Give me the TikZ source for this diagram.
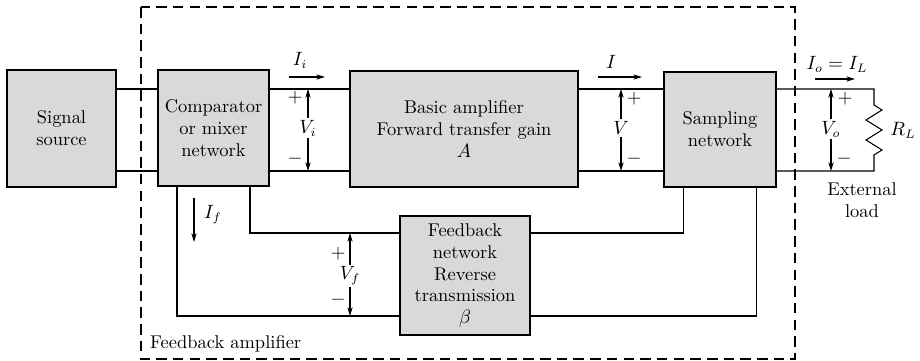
\documentclass[tikz,border=0pt]{standalone}
\usepackage{amsmath}
\usepackage{amssymb}
\usepackage{tikz}
\usetikzlibrary{arrows.meta}

\begin{document}
\begin{tikzpicture}[x=0.02cm, y=-0.02cm, font=\fontsize{10.5}{12.5}\selectfont]

\tikzset{
  block/.style={
    draw, line width=1pt, fill=black!15,
    align=center, inner sep=2pt,
  },
  wire/.style={line width=0.6pt},
  sense/.style={line width=0.6pt, -{Stealth[length=5pt,width=3pt]}},
}

  \useasboundingbox (0,0) rectangle (920,361);

  % Feedback amplifier boundary
  \draw[line width=1pt, dash pattern=on 6pt off 3.5pt] (141,7) rectangle (795,359);
  \node[anchor=west] (fbamp) at (144,344) {Feedback amplifier};

  % Blocks
  \node[block, minimum width=2.18cm, minimum height=2.34cm] (src) at (61.5,128.5) {Signal\\source};
  \node[block, minimum width=2.22cm, minimum height=2.32cm] (cmp) at (213.5,128) {Comparator\\or mixer\\network};
  \node[block, minimum width=4.56cm, minimum height=2.32cm] (amp) at (464,129) {Basic amplifier\\Forward transfer gain\\$A$};
  \node[block, minimum width=2.24cm, minimum height=2.30cm] (smp) at (720,129.5) {Sampling\\network};
  \node[block, minimum width=2.60cm, minimum height=2.38cm] (fb) at (465,275.5) {Feedback\\network\\Reverse\\transmission\\$\beta$};

  % Wire levels
  \coordinate (hi) at (0,89);
  \coordinate (lo) at (0,171);
  \coordinate (fhi) at (0,233);
  \coordinate (flo) at (0,316);
  \coordinate (rt) at (874,89);
  \coordinate (rb) at (874,171);

  % Forward path
  \draw[wire] (src.east |- hi) -- (cmp.west |- hi);
  \draw[wire] (src.east |- lo) -- (cmp.west |- lo);
  \draw[wire] (cmp.east |- hi) -- (amp.west |- hi);
  \draw[wire] (cmp.east |- lo) -- (amp.west |- lo);
  \draw[wire] (amp.east |- hi) -- (smp.west |- hi);
  \draw[wire] (amp.east |- lo) -- (smp.west |- lo);

  % Load
  \draw[wire] (smp.east |- hi) -- (rt) -- (874,105) -- (882,110) -- (866,120)
    -- (882,130) -- (866,140) -- (882,150) -- (874,155) -- (rb) -- (smp.east |- lo);
  \node (rl) at (903,130) {$R_L$};
  \node[align=center] (ext) at (862,200) {External\\load};

  % Feedback path
  \draw[wire] ([xshift=0.73cm]cmp.south) |- (fb.west |- fhi);
  \draw[wire] ([xshift=-0.73cm]cmp.south) |- (fb.west |- flo);
  \draw[wire] ([xshift=-0.73cm]smp.south) |- (fb.east |- fhi);
  \draw[wire] ([xshift=0.73cm]smp.south) |- (fb.east |- flo);

  % Currents
  \node (ii) at (300,60) {$I_i$};
  \draw[sense] (289,77) -- (325,77);
  \node (i) at (611,62) {$I$};
  \draw[sense] (598,77) -- (642,77);
  \node (io) at (837,64) {$I_o = I_L$};
  \draw[sense] (815,79) -- (855,79);
  \node (if) at (213,215) {$I_f$};
  \draw[sense] (194,198) -- (194,242);

  % Voltages
  \node[inner sep=1pt] (vi) at (308,128) {$V_i$};
  \draw[sense] (vi.north) -- (vi.north |- hi);
  \draw[sense] (vi.south) -- (vi.south |- lo);
  \node (vip) at (295,98) {$+$};
  \node (vim) at (295,159) {$-$};

  \node[inner sep=1pt] (v) at (621,128) {$V$};
  \draw[sense] (v.north) -- (v.north |- hi);
  \draw[sense] (v.south) -- (v.south |- lo);
  \node (vp) at (634,99) {$+$};
  \node (vm) at (634,159) {$-$};

  \node[inner sep=1pt] (vo) at (831,129) {$V_o$};
  \draw[sense] (vo.north) -- (vo.north |- hi);
  \draw[sense] (vo.south) -- (vo.south |- lo);
  \node (vop) at (845,99) {$+$};
  \node (vom) at (844,159) {$-$};

  \node[inner sep=1pt] (vf) at (350,276) {$V_f$};
  \draw[sense] (vf.north) -- (vf.north |- fhi);
  \draw[sense] (vf.south) -- (vf.south |- flo);
  \node (vfp) at (338,254) {$+$};
  \node (vfm) at (338,300) {$-$};

\end{tikzpicture}
\end{document}
